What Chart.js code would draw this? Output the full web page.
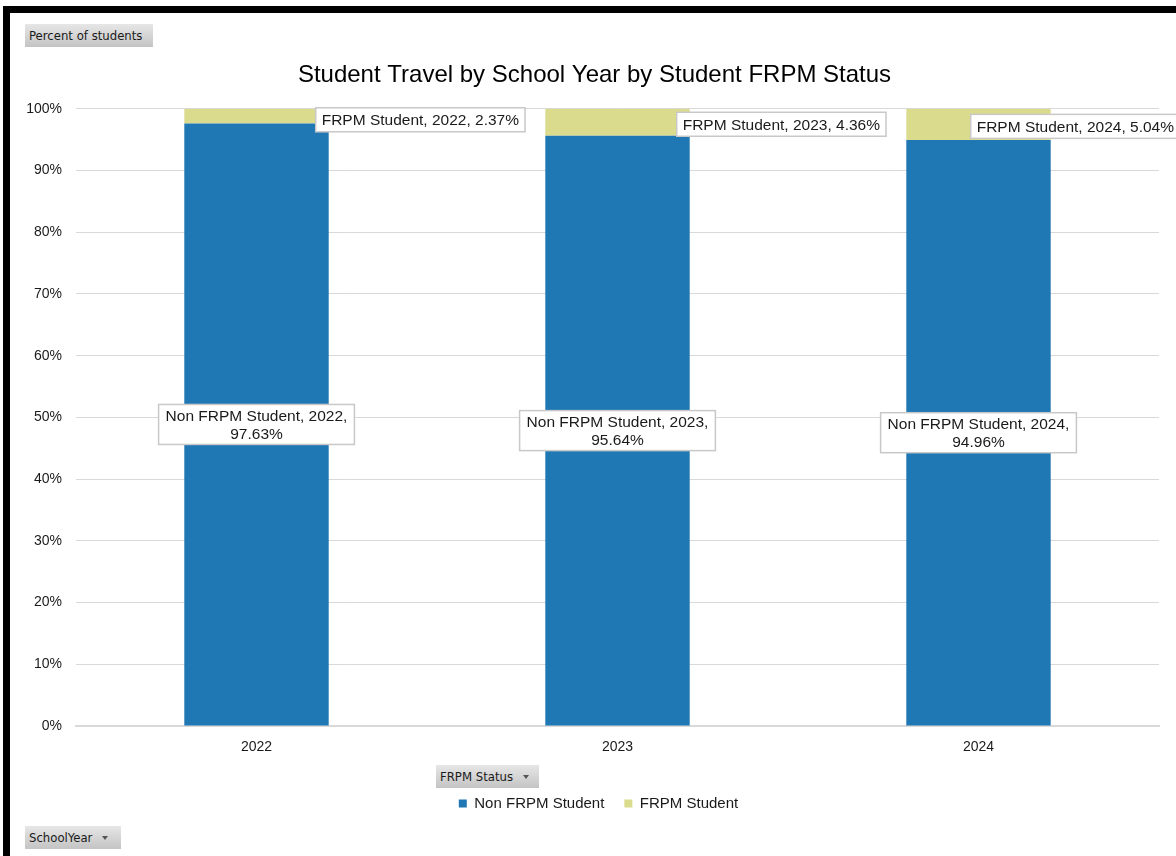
<!DOCTYPE html>
<html>
<head>
<meta charset="utf-8">
<script src="https://cdn.jsdelivr.net/npm/chart.js@4/dist/chart.umd.min.js"></script>
<style>
body{margin:0;background:#fff;width:1176px;height:856px;overflow:hidden;position:relative;font-family:'Liberation Sans',Arial,sans-serif}
#frame{position:absolute;left:3px;top:6px;right:-20px;bottom:-20px;border-left:7px solid #000;border-top:7px solid #000}
#myChart{position:absolute;left:0;top:0}
.btn{position:absolute;height:23px;display:flex;align-items:center;padding:0 4px;font:13px 'DejaVu Sans Condensed','DejaVu Sans',sans-serif;color:#1a1a1a;background:linear-gradient(#e6e6e6,#c4c4c4);box-sizing:border-box;white-space:nowrap}
.btn .arr{display:inline-block;margin-left:10px;width:0;height:0;border-left:3.5px solid transparent;border-right:3.5px solid transparent;border-top:4px solid #555}
</style>
</head>
<body>
<div id="frame"></div>
<canvas id="myChart" width="1176" height="856"></canvas>
<div class="btn" style="left:25px;top:24px;width:128px">Percent of students</div>
<div class="btn" style="left:436px;top:765px;width:103px">FRPM Status<span class="arr"></span></div>
<div class="btn" style="left:25px;top:826px;width:96px">SchoolYear<span class="arr"></span></div>
<script>
// data
const years = ['2022', '2023', '2024']
const seriesNames = ['Non FRPM Student', 'FRPM Student']
const nonFrpm = [97.63, 95.64, 94.96]
const frpm = [2.37, 4.36, 5.04]
const yTicks = [0, 10, 20, 30, 40, 50, 60, 70, 80, 90, 100]

const blue = '#1f77b4'
const olive = '#dbdb8d'
const fam = '"Liberation Sans", Arial, sans-serif'
const labelFont = '15.5px ' + fam

//draw a white box with text lines centered at (cx, cy)
const drawBox = (ctx, lines, cx, cy, padX, lineH) => {
	let w = Math.max(...lines.map(l => ctx.measureText(l).width)) + padX * 2
	let h = lines.length * lineH + 4
	let x = cx - w / 2
	let y = cy - h / 2
	ctx.fillStyle = '#fff'
	ctx.fillRect(x, y, w, h)
	ctx.strokeStyle = '#c8c8c8'
	ctx.lineWidth = 1.5
	ctx.strokeRect(x, y, w, h)
	ctx.fillStyle = '#1a1a1a'
	lines.forEach((l, i) => {
		ctx.fillText(l, cx, y + 2 + lineH * i + lineH / 2 + 1)
	})
	return w
}

const boxLabels = {
	id: 'boxLabels',
	afterDatasetsDraw(chart) {
		let ctx = chart.ctx
		ctx.save()
		ctx.font = labelFont
		ctx.textAlign = 'center'
		ctx.textBaseline = 'middle'
		chart.data.datasets.forEach((ds, di) => {
			chart.getDatasetMeta(di).data.forEach((bar, i) => {
				let val = ds.data[i].toFixed(2) + '%'
				let mid = (bar.y + bar.base) / 2
				if (di === 0) {
					drawBox(ctx, [ds.label + ', ' + years[i] + ',', val], bar.x, mid, 7, 18)
				} else {
					let text = ds.label + ', ' + years[i] + ', ' + val
					let w = ctx.measureText(text).width + 12
					let left = bar.x + bar.width / 2 - 13
					if (left + w > chart.width + 4) left = chart.width + 4 - w
					let cy = Math.max(mid + 2, chart.chartArea.top + 11)
					drawBox(ctx, [text], left + w / 2, cy, 6, 20)
				}
			})
		})
		ctx.restore()
	}
}

// title and legend sit a bit right of the canvas centre in the original
const shiftBlocks = {
	id: 'shiftBlocks',
	afterLayout(chart) {
		chart.legend.left += 19
		chart.legend.right += 19
		chart.titleBlock.left += 15
		chart.titleBlock.right += 15
	}
}

let ctx = document.getElementById('myChart').getContext('2d')

let data = {
	labels: years,
	datasets: [{
		label: seriesNames[0],
		data: nonFrpm,
		backgroundColor: blue
	}, {
		label: seriesNames[1],
		data: frpm,
		backgroundColor: olive
	}]
}

let myChart = new Chart(ctx, {
	type: 'bar',
	data: data,
	plugins: [boxLabels, shiftBlocks],
	options: {
		responsive: false,
		animation: false,
		datasets: {
			bar: { barPercentage: 0.4, categoryPercentage: 1 }
		},
		layout: {
			padding: { left: 0, right: 17, top: 0, bottom: 35 }
		},
		scales: {
			x: {
				stacked: true,
				grid: { display: false, drawTicks: false },
				border: { display: true, color: '#d9d9d9', width: 2 },
				ticks: { color: '#1a1a1a', padding: 13, font: { family: fam, size: 14 } },
				afterFit: s => { s.height = 50 }
			},
			y: {
				stacked: true,
				min: 0,
				max: 100,
				afterBuildTicks: s => { s.ticks = yTicks.map(v => ({ value: v })) },
				grid: { color: '#d9d9d9', drawTicks: false },
				border: { display: false },
				ticks: {
					color: '#1a1a1a',
					padding: 14,
					font: { family: fam, size: 14 },
					callback: v => v + '%'
				},
				afterFit: s => { s.width = 76 }
			}
		},
		plugins: {
			title: {
				display: true,
				text: 'Student Travel by School Year by Student FRPM Status',
				color: '#000',
				font: { family: fam, size: 24, weight: 'normal' },
				padding: { top: 61, bottom: 19 }
			},
			legend: {
				position: 'bottom',
				labels: {
					boxWidth: 8,
					boxHeight: 8,
					padding: 20,
					color: '#1a1a1a',
					font: { family: fam, size: 15 }
				}
			},
			tooltip: { enabled: false }
		}
	}
})
</script>
</body>
</html>
